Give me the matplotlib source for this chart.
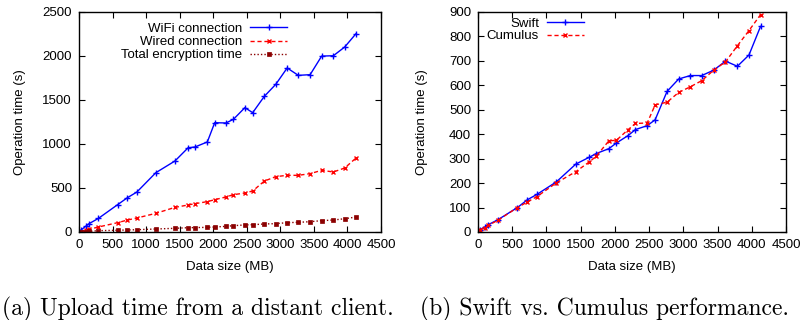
import matplotlib
matplotlib.use("Agg")
import matplotlib.pyplot as plt
from matplotlib.ticker import MultipleLocator
from matplotlib.legend import Legend

# ---- data ----
sizes = [25, 100, 150, 290, 576, 722, 862, 1145, 1430, 1627, 1728, 1912, 2022, 2190,
         2300, 2472, 2588, 2762, 2932, 3102, 3268, 3444, 3616, 3790, 3959, 4128]
wifi = [20, 65, 95, 155, 311, 390, 454, 674, 807, 958, 966, 1023, 1242, 1239,
        1280, 1413, 1356, 1542, 1678, 1864, 1780, 1788, 1999, 2003, 2102, 2254]
wired = [5, 20, 30, 57, 106, 136, 159, 212, 280, 307, 322, 345, 367, 398,
         424, 443, 466, 579, 629, 644, 644, 663, 701, 682, 727, 841]
encryption = [1, 5, 7, 15, 20, 23, 26, 34, 42, 49, 50, 53, 57, 64,
              72, 80, 83, 91, 95, 106, 110, 117, 129, 136, 151, 170]
swift = [7, 20, 30, 50, 100, 132, 154, 205, 278, 306, 321, 341, 364, 394,
         419, 435, 459, 575, 626, 640, 640, 662, 699, 678, 724, 841]
cumulus = [10, 18, 27, 48, 100, 123, 145, 201, 247, 287, 310, 373, 375, 418,
           444, 446, 520, 531, 571, 594, 619, 662, 696, 762, 824, 889]

xlabel = "Data size (MB)"
ylabel = "Operation time (s)"
caption_a = "(a) Upload time from a distant client."
caption_b = "(b) Swift vs. Cumulus performance."

plt.rcParams['font.family'] = ['Liberation Sans', 'DejaVu Sans']
FS = 9.5

fig = plt.figure(figsize=(8.03, 3.2), dpi=100)
ax1 = fig.add_axes([79/803, 88/320, 302/803, 220/320])
ax2 = fig.add_axes([478/803, 88/320, 308/803, 220/320])

BLUE = '#0000ff'
RED = '#ff0000'
DARK = '#8b0000'

l1, = ax1.plot(sizes, wifi, color=BLUE, lw=1.0, marker='+', ms=4, mew=1.0, label='WiFi connection')
l2, = ax1.plot(sizes, wired, color=RED, lw=1.0, ls=(0, (3, 2)), marker='x', ms=3.5, mew=1.0, label='Wired connection')
l3, = ax1.plot(sizes, encryption, color=DARK, lw=1.0, ls=(0, (1, 1.5)), marker='s', ms=3, mew=0.5, label='Total encryption time')

r1, = ax2.plot(sizes, swift, color=BLUE, lw=1.0, marker='+', ms=4, mew=1.0, label='Swift')
r2, = ax2.plot(sizes, cumulus, color=RED, lw=1.0, ls=(0, (3, 2)), marker='x', ms=3.5, mew=1.0, label='Cumulus')

for ax, ymax, ystep, ylx in ((ax1, 2500, 500, -0.195), (ax2, 900, 100, -0.182)):
    ax.set_xlim(0, 4500)
    ax.set_ylim(0, ymax)
    ax.xaxis.set_major_locator(MultipleLocator(500))
    ax.yaxis.set_major_locator(MultipleLocator(ystep))
    ax.tick_params(direction='in', top=True, right=True, length=4, width=0.8, labelsize=FS)
    ax.tick_params(axis='x', pad=5)
    ax.tick_params(axis='y', pad=5)
    for s in ax.spines.values():
        s.set_linewidth(1.0)
    ax.set_xlabel(xlabel, fontsize=FS)
    ax.set_ylabel(ylabel, fontsize=FS)
    ax.xaxis.label.set_va('center')
    ax.yaxis.label.set_va('center')
    ax.xaxis.set_label_coords(0.5, -0.158)
    ax.yaxis.set_label_coords(ylx, 0.5)


def entry(ax, handle, xr, yc):
    leg = Legend(ax, [handle], [handle.get_label()], loc='center right',
                 bbox_to_anchor=(xr, yc), bbox_transform=ax.transAxes,
                 markerfirst=False, frameon=False, fontsize=FS, handlelength=2.8,
                 handletextpad=0.6, borderaxespad=0.0, borderpad=0.0)
    ax.add_artist(leg)

for h, y in ((l1, 0.925), (l2, 0.862), (l3, 0.804)):
    entry(ax1, h, 0.689, y)
for h, y in ((r1, 0.948), (r2, 0.890)):
    entry(ax2, h, 0.344, y)

fig.text(198/803, 5/320, caption_a, family='cmr10', fontsize=17, va='baseline', ha='center')
fig.text(605/803, 5/320, caption_b, family='cmr10', fontsize=17, va='baseline', ha='center')

fig.savefig('out.png', dpi=100)
